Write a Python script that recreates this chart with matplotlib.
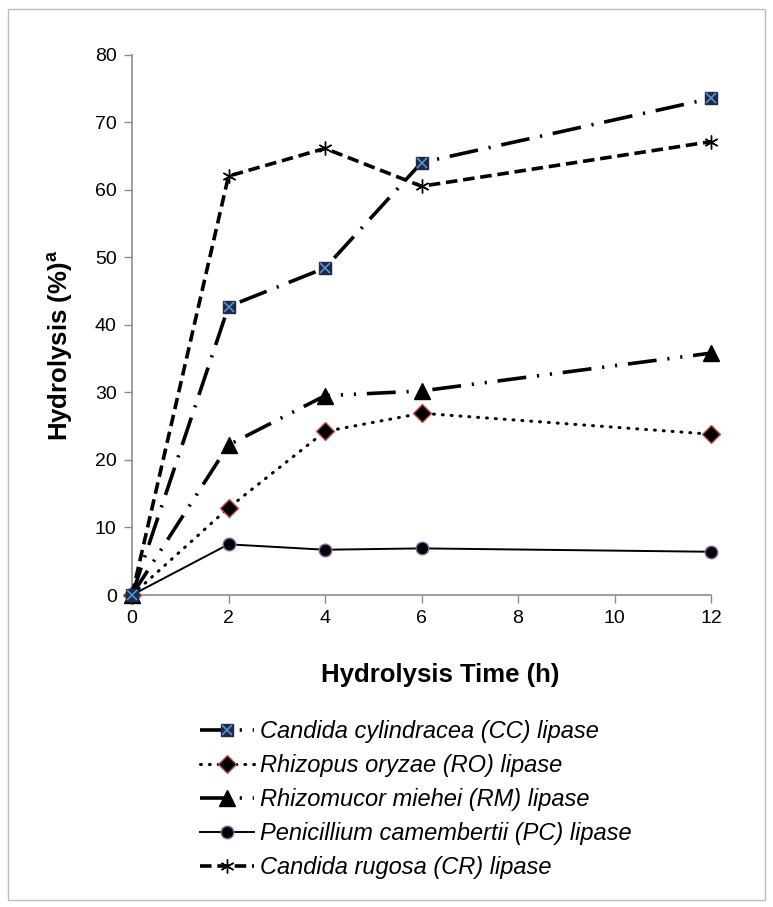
import matplotlib
matplotlib.use("Agg")
import matplotlib.pyplot as plt
from matplotlib.patches import Rectangle
from matplotlib.legend_handler import HandlerTuple

plt.rcParams['font.family'] = ['Liberation Sans', 'DejaVu Sans']
plt.rcParams['mathtext.fontset'] = 'custom'
plt.rcParams['mathtext.rm'] = 'Liberation Sans'
plt.rcParams['mathtext.bf'] = 'Liberation Sans:bold'

hours = [0, 2, 4, 6, 12]
cc = [0, 42.7, 48.4, 64.0, 73.5]
ro = [0, 12.9, 24.2, 26.9, 23.8]
rm = [0, 22.2, 29.5, 30.2, 35.8]
pc = [0, 7.5, 6.7, 6.9, 6.4]
cr = [0, 62.0, 66.1, 60.5, 67.1]

labels = ["Candida cylindracea (CC) lipase",
          "Rhizopus oryzae (RO) lipase",
          "Rhizomucor miehei (RM) lipase",
          "Penicillium camembertii (PC) lipase",
          "Candida rugosa (CR) lipase"]
xticks = [0, 2, 4, 6, 8, 10, 12]
yticks = [0, 10, 20, 30, 40, 50, 60, 70, 80]

W, H = 773, 907
fig = plt.figure(figsize=(W / 100, H / 100), dpi=100)
ax = fig.add_axes([132 / W, 1 - 595 / H, (711 - 132) / W, (595 - 54.5) / H])

# outer frame
fig.patches.append(Rectangle((8 / W, 1 - 900 / H), (765 - 8) / W, (900 - 9) / H,
                             transform=fig.transFigure, fill=False,
                             edgecolor='#bdbdbd', lw=1))

lw = 2.6
l_cc, = ax.plot(hours, cc, color='black', lw=lw, dashes=(8, 3, 0.6, 3),
                clip_on=False, zorder=3)
m_cc1, = ax.plot(hours, cc, ls='none', marker='s', ms=9, mfc='#1c2b4a',
                 mec='#1c2b4a', clip_on=False, zorder=4)
m_cc2, = ax.plot(hours, cc, ls='none', marker='x', ms=7, mew=1.2,
                 color='#5b8fd0', clip_on=False, zorder=5)

l_ro, = ax.plot(hours, ro, color='black', lw=2.2, ls=(0, (0.3, 2.6)),
                dash_capstyle='round', marker='D', ms=9, mfc='black',
                mec='#c0504d', mew=1.0, clip_on=False, zorder=3)

l_rm, = ax.plot(hours, rm, color='black', lw=lw, dashes=(8, 3, 0.6, 3, 0.6, 3),
                marker='^', ms=11, mfc='black', mec='black',
                clip_on=False, zorder=3)

l_pc, = ax.plot(hours, pc, color='black', lw=1.4, ls='-', marker='o', ms=9,
                mfc='black', mec='#8064a2', mew=1.0, clip_on=False, zorder=3)

l_cr, = ax.plot(hours, cr, color='black', lw=lw, dashes=(3.2, 1.6),
                marker=(6, 2, 0), ms=10, mew=1.0, mec='black',
                clip_on=False, zorder=3)

ax.set_xlim(0, 12)
ax.set_ylim(0, 80)
ax.set_xticks(xticks)
ax.set_yticks(yticks)
ax.set_xticklabels([str(v) for v in xticks])
ax.set_yticklabels([str(v) for v in yticks])
for s in ['top', 'right']:
    ax.spines[s].set_visible(False)
for s in ['left', 'bottom']:
    ax.spines[s].set_color('#8c8c8c')
    ax.spines[s].set_linewidth(1.2)
ax.tick_params(axis='both', direction='out', length=6, width=1, color='#8c8c8c',
               labelsize=14, pad=5)

fig.text(440 / W, 1 - 675 / H, 'Hydrolysis Time (h)', fontsize=18.5,
         fontweight='bold', ha='center', va='center')
fig.text(60 / W, 1 - 345 / H, r'Hydrolysis (%)$^{\mathregular{a}}$', fontsize=18.5,
         fontweight='bold', ha='center', va='center', rotation=90)

handles = [(l_cc, m_cc1, m_cc2), l_ro, l_rm, l_pc, l_cr]
leg = fig.legend(handles, labels, loc='upper left',
                 bbox_to_anchor=(200 / W, 1 - 720 / H),
                 frameon=False, prop={'size': 17, 'style': 'italic'},
                 handlelength=2.3, handletextpad=0.25, labelspacing=0.47,
                 borderaxespad=0, borderpad=0,
                 handler_map={tuple: HandlerTuple(ndivide=1, pad=0)})

fig.savefig('out.png', dpi=100)
